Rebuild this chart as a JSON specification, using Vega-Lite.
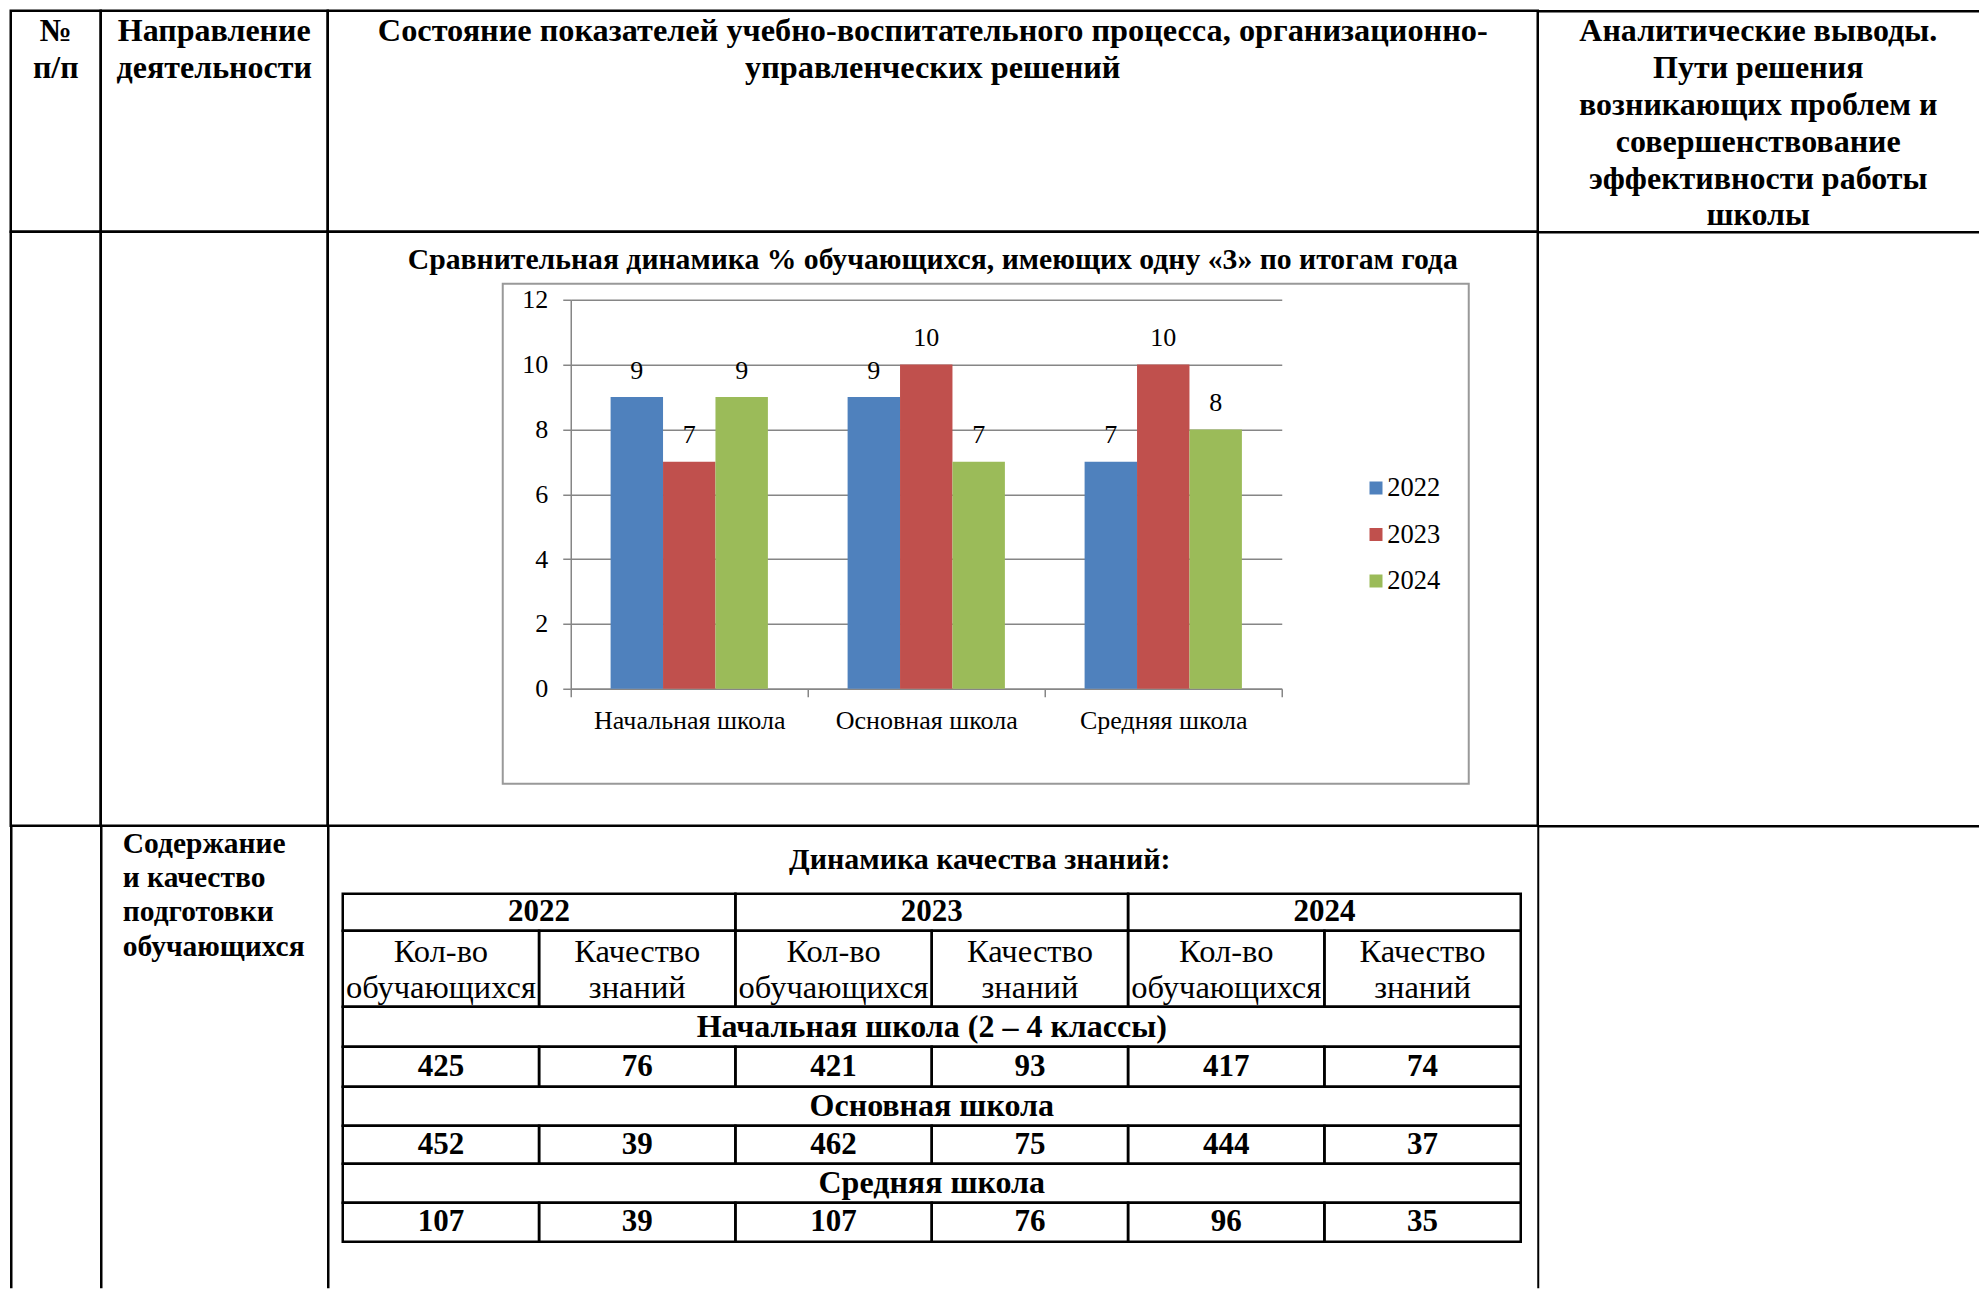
{
  "$schema": "https://vega.github.io/schema/vega-lite/v6.json",
  "padding": {"left": 8.75, "top": 8.75, "right": 0, "bottom": 0},
  "background": "white",
  "datasets": {
    "chart": [
      {"school": "Начальная школа", "year": "2022", "value": 9},
      {"school": "Начальная школа", "year": "2023", "value": 7},
      {"school": "Начальная школа", "year": "2024", "value": 9},
      {"school": "Основная школа", "year": "2022", "value": 9},
      {"school": "Основная школа", "year": "2023", "value": 10},
      {"school": "Основная школа", "year": "2024", "value": 7},
      {"school": "Средняя школа", "year": "2022", "value": 7},
      {"school": "Средняя школа", "year": "2023", "value": 10},
      {"school": "Средняя школа", "year": "2024", "value": 8}
    ],
    "quality": [
      {"school": "Начальная школа (2 – 4 классы)", "year": "2022", "metric": "Кол-во обучающихся", "value": 425},
      {"school": "Начальная школа (2 – 4 классы)", "year": "2022", "metric": "Качество знаний", "value": 76},
      {"school": "Начальная школа (2 – 4 классы)", "year": "2023", "metric": "Кол-во обучающихся", "value": 421},
      {"school": "Начальная школа (2 – 4 классы)", "year": "2023", "metric": "Качество знаний", "value": 93},
      {"school": "Начальная школа (2 – 4 классы)", "year": "2024", "metric": "Кол-во обучающихся", "value": 417},
      {"school": "Начальная школа (2 – 4 классы)", "year": "2024", "metric": "Качество знаний", "value": 74},
      {"school": "Основная школа", "year": "2022", "metric": "Кол-во обучающихся", "value": 452},
      {"school": "Основная школа", "year": "2022", "metric": "Качество знаний", "value": 39},
      {"school": "Основная школа", "year": "2023", "metric": "Кол-во обучающихся", "value": 462},
      {"school": "Основная школа", "year": "2023", "metric": "Качество знаний", "value": 75},
      {"school": "Основная школа", "year": "2024", "metric": "Кол-во обучающихся", "value": 444},
      {"school": "Основная школа", "year": "2024", "metric": "Качество знаний", "value": 37},
      {"school": "Средняя школа", "year": "2022", "metric": "Кол-во обучающихся", "value": 107},
      {"school": "Средняя школа", "year": "2022", "metric": "Качество знаний", "value": 39},
      {"school": "Средняя школа", "year": "2023", "metric": "Кол-во обучающихся", "value": 107},
      {"school": "Средняя школа", "year": "2023", "metric": "Качество знаний", "value": 76},
      {"school": "Средняя школа", "year": "2024", "metric": "Кол-во обучающихся", "value": 96},
      {"school": "Средняя школа", "year": "2024", "metric": "Качество знаний", "value": 35}
    ]
  },
  "columns": 4,
  "spacing": 0,
  "bounds": "flush",
  "align": "each",
  "resolve": {"scale": {"color": "independent", "xOffset": "independent"}, "legend": {"color": "independent"}},
  "concat": [
    {
      "width": 90, "height": 221,
      "view": {"stroke": "#000", "strokeWidth": 2.5},
      "data": {"values": [{"line": 1, "text": "№"}, {"line": 2, "text": "п/п"}]},
      "mark": {"type": "text", "fontSize": 32, "fontWeight": "bold", "baseline": "middle", "dy": 2},
      "encoding": {
        "y": {"field": "line", "type": "ordinal", "scale": {"type": "point", "domain": [1, 2, 3, 4, 5, 6], "padding": 0.5}, "axis": null},
        "text": {"field": "text"}
      }
    },
    {
      "width": 227, "height": 221,
      "view": {"stroke": "#000", "strokeWidth": 2.5},
      "data": {"values": [{"line": 1, "text": "Направление"}, {"line": 2, "text": "деятельности"}]},
      "mark": {"type": "text", "fontSize": 32, "fontWeight": "bold", "baseline": "middle", "dy": 2},
      "encoding": {
        "y": {"field": "line", "type": "ordinal", "scale": {"type": "point", "domain": [1, 2, 3, 4, 5, 6], "padding": 0.5}, "axis": null},
        "text": {"field": "text"}
      }
    },
    {
      "width": 1210, "height": 221,
      "view": {"stroke": "#000", "strokeWidth": 2.5},
      "data": {"values": [
        {"line": 1, "text": "Состояние показателей учебно-воспитательного процесса, организационно-"},
        {"line": 2, "text": "управленческих решений"}
      ]},
      "mark": {"type": "text", "fontSize": 32.3, "fontWeight": "bold", "baseline": "middle", "dy": 2},
      "encoding": {
        "y": {"field": "line", "type": "ordinal", "scale": {"type": "point", "domain": [1, 2, 3, 4, 5, 6], "padding": 0.5}, "axis": null},
        "text": {"field": "text"}
      }
    },
    {
      "width": 441, "height": 221,
      "data": {"values": [
        {"line": 1, "text": "Аналитические выводы."},
        {"line": 2, "text": "Пути решения"},
        {"line": 3, "text": "возникающих проблем и"},
        {"line": 4, "text": "совершенствование"},
        {"line": 5, "text": "эффективности работы"},
        {"line": 6, "text": "школы"}
      ]},
      "mark": {"type": "text", "fontSize": 32, "fontWeight": "bold", "baseline": "middle", "dy": 2},
      "encoding": {
        "x": {"datum": 0.5, "type": "quantitative", "scale": {"domain": [0, 1]},
              "axis": {"orient": "top", "domain": true, "domainColor": "#000", "domainWidth": 2.5, "ticks": false, "labels": false, "grid": false, "title": null}},
        "y": {"field": "line", "type": "ordinal", "scale": {"type": "point", "domain": [1, 2, 3, 4, 5, 6], "padding": 0.5}, "axis": null},
        "text": {"field": "text"}
      }
    },
    {
      "width": 90, "height": 594,
      "view": {"stroke": "#000", "strokeWidth": 2.5},
      "data": {"values": [{}]},
      "mark": {"type": "text", "text": ""},
      "encoding": {}
    },
    {
      "width": 227, "height": 594,
      "view": {"stroke": "#000", "strokeWidth": 2.5},
      "data": {"values": [{}]},
      "mark": {"type": "text", "text": ""},
      "encoding": {}
    },
    {
      "vconcat": [
        {
          "vconcat": [
            {
              "width": 1210, "height": 594,
              "view": {"stroke": "#000", "strokeWidth": 2.5},
              "data": {"values": [{}]},
              "mark": {"type": "text", "text": ""},
              "encoding": {}
            }
          ],
          "spacing": 0,
          "bounds": "flush"
        },
        {
          "width": 1210, "height": 52,
          "data": {"values": [{"text": "Сравнительная динамика % обучающихся, имеющих одну «3» по итогам года"}]},
          "mark": {"type": "text", "fontSize": 29.7, "fontWeight": "bold", "baseline": "middle", "dy": 2},
          "encoding": {"text": {"field": "text"}}
        },
        {
          "hconcat": [
            {
              "width": 175, "height": 500,
              "data": {"values": [{}]},
              "mark": {"type": "text", "text": ""},
              "encoding": {}
            },
            {
              "vconcat": [
                {
                  "vconcat": [
                    {
                      "width": 966, "height": 500,
                      "view": {"stroke": "#999999", "strokeWidth": 2},
                      "data": {"values": [{}]},
                      "mark": {"type": "text", "text": ""},
                      "encoding": {}
                    }
                  ],
                  "spacing": 0,
                  "bounds": "flush"
                },
                {
                  "width": 10, "height": 16,
                  "data": {"values": [{}]},
                  "mark": {"type": "text", "text": ""},
                  "encoding": {}
                },
                {
                  "hconcat": [
                    {
                      "width": 67.5, "height": 389,
                      "data": {"values": [{}]},
                      "mark": {"type": "text", "text": ""},
                      "encoding": {}
                    },
                    {
                      "width": 711, "height": 389,
                      "data": {"name": "chart"},
                      "encoding": {
                        "x": {
                          "field": "school", "type": "nominal",
                          "sort": ["Начальная школа", "Основная школа", "Средняя школа"],
                          "scale": {"paddingInner": 0, "paddingOuter": 0},
                          "axis": {
                            "title": null, "labelAngle": 0, "tickBand": "extent", "grid": false, "labelLimit": 0,
                            "domainColor": "#868686", "domainWidth": 1.5, "tickColor": "#868686", "tickWidth": 1.5, "tickSize": 8,
                            "labelFont": "Liberation Serif", "labelFontSize": 26, "labelColor": "#000", "labelPadding": 11
                          }
                        },
                        "xOffset": {
                          "field": "year", "type": "nominal",
                          "scale": {"paddingInner": 0, "paddingOuter": 0.76}
                        },
                        "y": {
                          "field": "value", "type": "quantitative",
                          "scale": {"domain": [0, 12], "nice": false},
                          "axis": {
                            "title": null, "values": [0, 2, 4, 6, 8, 10, 12],
                            "grid": true, "gridColor": "#868686", "gridWidth": 1.5,
                            "domainColor": "#868686", "domainWidth": 1.5, "tickColor": "#868686", "tickWidth": 1.5, "tickSize": 8,
                            "labelFont": "Liberation Serif", "labelFontSize": 26, "labelColor": "#000", "labelPadding": 15
                          }
                        }
                      },
                      "layer": [
                        {
                          "mark": {"type": "bar"},
                          "encoding": {
                            "color": {
                              "field": "year", "type": "nominal",
                              "scale": {"domain": ["2022", "2023", "2024"], "range": ["#4F81BD", "#C0504D", "#9BBB59"]},
                              "legend": {
                                "title": null, "orient": "none", "legendX": 792, "legendY": 175, "padding": 0,
                                "symbolType": "square", "symbolSize": 169, "symbolStrokeWidth": 0,
                                "labelFont": "Liberation Serif", "labelFontSize": 26.5, "labelColor": "#000",
                                "labelOffset": -2, "rowPadding": 19.5
                              }
                            }
                          }
                        },
                        {
                          "mark": {"type": "text", "baseline": "alphabetic", "dy": -18.5, "fontSize": 26, "font": "Liberation Serif", "color": "#000"},
                          "encoding": {"text": {"field": "value", "type": "quantitative"}}
                        }
                      ]
                    }
                  ],
                  "spacing": 0,
                  "bounds": "flush",
                  "resolve": {"scale": {"color": "independent", "xOffset": "independent"}, "legend": {"color": "independent"}}
                }
              ],
              "spacing": 0,
              "bounds": "flush",
              "resolve": {"scale": {"color": "independent", "xOffset": "independent"}, "legend": {"color": "independent"}}
            }
          ],
          "spacing": 0,
          "bounds": "flush",
          "resolve": {"scale": {"color": "independent", "xOffset": "independent"}, "legend": {"color": "independent"}}
        }
      ],
      "spacing": 0,
      "bounds": "flush",
      "resolve": {"scale": {"color": "independent", "xOffset": "independent"}, "legend": {"color": "independent"}}
    },
    {
      "width": 441, "height": 594,
      "data": {"values": [{}]},
      "mark": {"type": "text", "text": ""},
      "encoding": {
        "x": {"datum": 0.5, "type": "quantitative", "scale": {"domain": [0, 1]},
              "axis": {"orient": "top", "domain": true, "domainColor": "#000", "domainWidth": 2.5, "ticks": false, "labels": false, "grid": false, "title": null}},
        "y": {"datum": 0.5, "type": "quantitative", "scale": {"domain": [0, 1]}, "axis": null}
      }
    },
    {
      "width": 90, "height": 462,
      "data": {"values": [{}]},
      "encoding": {
        "x": {"datum": 0.5, "type": "quantitative", "scale": {"domain": [0, 1]}, "axis": null}
      },
      "layer": [
        {
          "mark": {"type": "text", "text": ""},
          "encoding": {
            "y": {"datum": 0, "type": "quantitative", "scale": {"domain": [0, 1]},
                  "axis": {"orient": "left", "domain": true, "domainColor": "#000", "domainWidth": 2.5, "ticks": false, "labels": false, "grid": false, "title": null}}
          }
        },
        {
          "mark": {"type": "text", "text": ""},
          "encoding": {
            "y": {"datum": 0, "type": "quantitative", "scale": {"domain": [0, 1]},
                  "axis": {"orient": "right", "domain": true, "domainColor": "#000", "domainWidth": 2.5, "ticks": false, "labels": false, "grid": false, "title": null}}
          }
        }
      ],
      "resolve": {"scale": {"y": "independent"}, "axis": {"y": "independent"}}
    },
    {
      "width": 227, "height": 462,
      "data": {"values": [
        {"line": 1, "text": "Содержание"},
        {"line": 2, "text": "и качество"},
        {"line": 3, "text": "подготовки"},
        {"line": 4, "text": "обучающихся"}
      ]},
      "mark": {"type": "text", "align": "left", "dx": -91.5, "fontSize": 29.5, "fontWeight": "bold", "baseline": "middle"},
      "encoding": {
        "x": {"datum": 0.5, "type": "quantitative", "scale": {"domain": [0, 1]}, "axis": null},
        "y": {"field": "line", "type": "quantitative",
              "scale": {"domain": [0.4575, 14.0], "reverse": true, "nice": false, "zero": false},
              "axis": {"orient": "right", "domain": true, "domainColor": "#000", "domainWidth": 2.5, "ticks": false, "labels": false, "grid": false, "title": null}},
        "text": {"field": "text"}
      }
    },
    {
      "vconcat": [
        {
          "width": 1210, "height": 68,
          "data": {"values": [{"text": "Динамика качества знаний:"}]},
          "mark": {"type": "text", "fontSize": 30, "fontWeight": "bold", "dx": 47, "baseline": "middle"},
          "encoding": {"text": {"field": "text"}}
        },
        {
          "hconcat": [
            {
              "width": 15, "height": 10,
              "data": {"values": [{}]},
              "mark": {"type": "text", "text": ""},
              "encoding": {}
            },
            {
              "vconcat": [
                {
                  "width": 1178, "height": 37,
                  "data": {"name": "quality"},
                  "transform": [{"aggregate": [{"op": "count", "as": "n"}], "groupby": ["year"]}],
                  "encoding": {"x": {"field": "year", "type": "nominal", "scale": {"paddingInner": 0, "paddingOuter": 0}, "axis": null}},
                  "layer": [
                    {"mark": {"type": "rect", "filled": false, "stroke": "#000", "strokeWidth": 2.5}},
                    {"mark": {"type": "text", "fontSize": 31, "fontWeight": "bold", "baseline": "middle"}, "encoding": {"text": {"field": "year"}}}
                  ]
                },
                {
                  "width": 1178, "height": 76,
                  "data": {"name": "quality"},
                  "transform": [{"aggregate": [{"op": "count", "as": "n"}], "groupby": ["year", "metric"]}],
                  "encoding": {
                    "x": {"field": "year", "type": "nominal", "scale": {"paddingInner": 0, "paddingOuter": 0}, "axis": null},
                    "xOffset": {"field": "metric", "type": "nominal", "sort": ["Кол-во обучающихся", "Качество знаний"], "scale": {"paddingInner": 0, "paddingOuter": 0}}
                  },
                  "layer": [
                    {"mark": {"type": "rect", "filled": false, "stroke": "#000", "strokeWidth": 2.5}},
                    {"mark": {"type": "text", "fontSize": 32.5, "baseline": "middle", "dy": -17, "lineBreak": " ", "lineHeight": 36.5}, "encoding": {"text": {"field": "metric"}}}
                  ]
                },
                {
                  "width": 1178, "height": 40,
                  "data": {"values": [{"label": "Начальная школа (2 – 4 классы)"}]},
                  "encoding": {"x": {"field": "label", "type": "nominal", "scale": {"paddingInner": 0, "paddingOuter": 0}, "axis": null}},
                  "layer": [
                    {"mark": {"type": "rect", "filled": false, "stroke": "#000", "strokeWidth": 2.5}},
                    {"mark": {"type": "text", "fontSize": 32, "fontWeight": "bold", "baseline": "middle"}, "encoding": {"text": {"field": "label"}}}
                  ]
                },
                {
                  "width": 1178, "height": 40,
                  "data": {"name": "quality"},
                  "transform": [{"filter": "datum.school === 'Начальная школа (2 – 4 классы)'"}],
                  "encoding": {
                    "x": {"field": "year", "type": "nominal", "scale": {"paddingInner": 0, "paddingOuter": 0}, "axis": null},
                    "xOffset": {"field": "metric", "type": "nominal", "sort": ["Кол-во обучающихся", "Качество знаний"], "scale": {"paddingInner": 0, "paddingOuter": 0}}
                  },
                  "layer": [
                    {"mark": {"type": "rect", "filled": false, "stroke": "#000", "strokeWidth": 2.5}},
                    {"mark": {"type": "text", "fontSize": 31, "fontWeight": "bold", "baseline": "middle"}, "encoding": {"text": {"field": "value", "type": "quantitative"}}}
                  ]
                },
                {
                  "width": 1178, "height": 39,
                  "data": {"values": [{"label": "Основная школа"}]},
                  "encoding": {"x": {"field": "label", "type": "nominal", "scale": {"paddingInner": 0, "paddingOuter": 0}, "axis": null}},
                  "layer": [
                    {"mark": {"type": "rect", "filled": false, "stroke": "#000", "strokeWidth": 2.5}},
                    {"mark": {"type": "text", "fontSize": 32, "fontWeight": "bold", "baseline": "middle"}, "encoding": {"text": {"field": "label"}}}
                  ]
                },
                {
                  "width": 1178, "height": 38,
                  "data": {"name": "quality"},
                  "transform": [{"filter": "datum.school === 'Основная школа'"}],
                  "encoding": {
                    "x": {"field": "year", "type": "nominal", "scale": {"paddingInner": 0, "paddingOuter": 0}, "axis": null},
                    "xOffset": {"field": "metric", "type": "nominal", "sort": ["Кол-во обучающихся", "Качество знаний"], "scale": {"paddingInner": 0, "paddingOuter": 0}}
                  },
                  "layer": [
                    {"mark": {"type": "rect", "filled": false, "stroke": "#000", "strokeWidth": 2.5}},
                    {"mark": {"type": "text", "fontSize": 31, "fontWeight": "bold", "baseline": "middle"}, "encoding": {"text": {"field": "value", "type": "quantitative"}}}
                  ]
                },
                {
                  "width": 1178, "height": 39,
                  "data": {"values": [{"label": "Средняя школа"}]},
                  "encoding": {"x": {"field": "label", "type": "nominal", "scale": {"paddingInner": 0, "paddingOuter": 0}, "axis": null}},
                  "layer": [
                    {"mark": {"type": "rect", "filled": false, "stroke": "#000", "strokeWidth": 2.5}},
                    {"mark": {"type": "text", "fontSize": 32, "fontWeight": "bold", "baseline": "middle"}, "encoding": {"text": {"field": "label"}}}
                  ]
                },
                {
                  "width": 1178, "height": 39,
                  "data": {"name": "quality"},
                  "transform": [{"filter": "datum.school === 'Средняя школа'"}],
                  "encoding": {
                    "x": {"field": "year", "type": "nominal", "scale": {"paddingInner": 0, "paddingOuter": 0}, "axis": null},
                    "xOffset": {"field": "metric", "type": "nominal", "sort": ["Кол-во обучающихся", "Качество знаний"], "scale": {"paddingInner": 0, "paddingOuter": 0}}
                  },
                  "layer": [
                    {"mark": {"type": "rect", "filled": false, "stroke": "#000", "strokeWidth": 2.5}},
                    {"mark": {"type": "text", "fontSize": 31, "fontWeight": "bold", "baseline": "middle"}, "encoding": {"text": {"field": "value", "type": "quantitative"}}}
                  ]
                }
              ],
              "spacing": 0,
              "bounds": "flush",
              "resolve": {"scale": {"color": "independent", "xOffset": "independent"}, "legend": {"color": "independent"}}
            }
          ],
          "spacing": 0,
          "bounds": "flush",
          "resolve": {"scale": {"color": "independent", "xOffset": "independent"}, "legend": {"color": "independent"}}
        }
      ],
      "spacing": 0,
      "bounds": "flush",
      "resolve": {"scale": {"color": "independent", "xOffset": "independent"}, "legend": {"color": "independent"}}
    },
    {
      "width": 441, "height": 462,
      "data": {"values": [{}]},
      "mark": {"type": "text", "text": ""},
      "encoding": {
        "x": {"datum": 0.5, "type": "quantitative", "scale": {"domain": [0, 1]},
              "axis": {"orient": "top", "domain": true, "domainColor": "#000", "domainWidth": 2.5, "ticks": false, "labels": false, "grid": false, "title": null}},
        "y": {"datum": 0.5, "type": "quantitative", "scale": {"domain": [0, 1]},
              "axis": {"orient": "left", "domain": true, "domainColor": "#000", "domainWidth": 2, "ticks": false, "labels": false, "grid": false, "title": null}}
      }
    }
  ],
  "config": {
    "view": {"stroke": null},
    "font": "Liberation Serif",
    "text": {"font": "Liberation Serif", "color": "#000"},
    "title": {"font": "Liberation Serif", "color": "#000"},
    "axis": {"labelFont": "Liberation Serif", "titleFont": "Liberation Serif"},
    "legend": {"labelFont": "Liberation Serif"}
  }
}
